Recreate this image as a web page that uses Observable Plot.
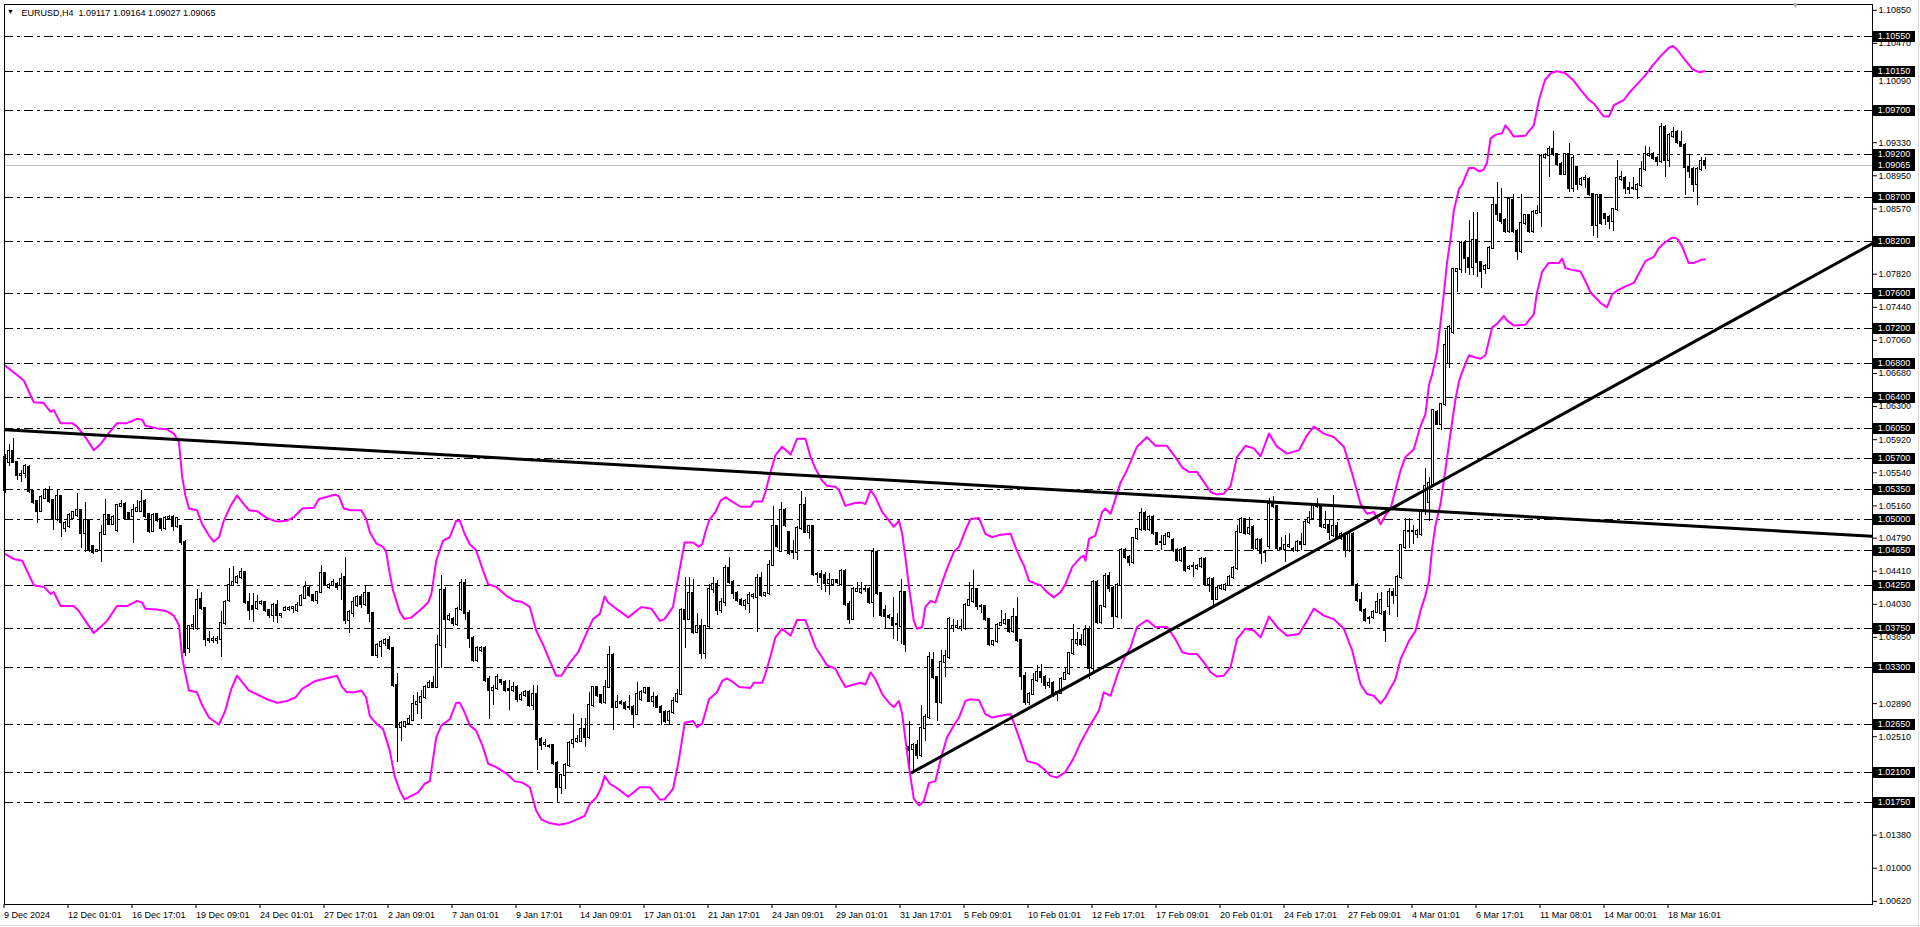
<!DOCTYPE html>
<html><head><meta charset="utf-8">
<script src="https://cdn.jsdelivr.net/npm/d3@7"></script>
<script src="https://cdn.jsdelivr.net/npm/@observablehq/plot@0.6"></script>
<style>html,body{margin:0;padding:0;background:#fff;overflow:hidden}</style>
</head><body><div id="chart"></div>
<script>
// EURUSD H4 candles, prices in pips above 1.0000 (534 -> 1.0534)
const openPips = [
534,566,579,566,551,553,560,532,521,510, 525,534,522,500,527,490,492,502,505,511,
484,499,469,464,465,483,505,495,488,515, 518,507,504,510,510,521,506,487,506,500,
490,501,503,492,492,474,352,377,375,409, 398,363,361,361,363,381,407,425,428,434,
440,405,400,398,404,405,396,390,402,390, 396,397,398,396,402,410,421,413,407,417,
438,422,425,426,425,434,384,392,402,411, 403,415,392,344,354,358,361,352,310,262,
263,266,270,288,290,296,308,312,308,356, 419,386,386,380,397,427,392,364,338,350,
352,317,304,306,315,313,305,304,308,294, 298,302,287,299,248,242,240,241,220,193,
206,218,243,245,246,259,250,287,307,298, 290,308,344,285,290,289,285,285,277,294,
302,306,292,296,285,279,270,279,291,300, 396,386,415,371,377,346,377,420,426,396,
405,444,428,415,407,402,404,412,411,433, 413,415,448,492,464,511,485,462,463,490,
516,486,492,437,437,436,427,426,430,426, 441,403,386,418,416,420,420,405,463,415,
396,389,387,380,377,416,239,236,241,229, 260,273,338,319,290,336,342,375,376,375,
375,402,406,420,400,400,385,357,360,379, 381,384,372,388,361,320,290,300,315,325,
319,310,312,302,301,317,323,346,358,362, 357,373,329,428,382,400,435,421,389,425,
465,457,451,478,489,507,489,503,484,474, 472,481,476,465,453,467,444,446,444,446,
455,426,432,409,421,420,425,434,444,486, 500,484,491,467,476,462,469,520,515,467,
466,469,466,465,474,472,497,501,515,516, 491,494,482,492,478,483,465,483,425,407,
396,387,388,394,392,394,400,417,413,434, 468,487,487,483,483,510,520,540,623,610,
632,680,715,785,787,817,800,790,821,795, 787,789,812,861,851,844,831,867,831,808,
840,849,831,852,853,916,918,925,919,908, 897,919,880,904,885,891,891,873,838,872,
850,847,842,856,891,892,880,880,879,884, 902,918,920,915,911,951,912,940,945,933,
930,905,902,885,902,911.7];
const highPips = [
575,586,593,567,557,563,562,534,522,528, 536,538,523,535,528,498,507,510,530,512,
520,500,471,466,493,523,506,505,518,522, 520,508,518,522,534,523,507,507,507,501,
504,505,505,503,493,476,379,390,420,417, 399,372,366,366,395,407,444,446,436,444,
441,415,415,413,407,406,397,404,407,392, 400,400,400,405,414,429,423,414,418,447,
440,427,432,428,438,457,396,411,413,414, 425,416,393,358,362,364,366,353,323,268,
269,275,298,302,304,310,315,320,367,436, 422,392,388,399,432,432,396,366,355,355,
354,320,310,322,317,316,315,313,310,302, 304,304,310,310,250,248,242,242,222,208,
220,245,277,252,272,272,302,309,309,300, 316,354,346,298,293,292,298,287,313,304,
308,308,302,298,287,281,281,296,305,398, 434,434,432,393,386,379,426,434,430,410,
448,457,430,418,410,408,416,415,437,440, 417,453,515,494,520,513,487,476,492,532,
526,494,494,440,442,439,438,432,432,443, 443,406,422,428,428,424,422,467,465,417,
402,391,411,392,431,418,269,243,247,287, 276,348,348,320,350,350,388,386,384,386,
404,428,442,421,403,402,386,362,381,396, 392,386,398,411,362,325,302,323,333,334,
321,318,314,303,319,329,348,380,371,368, 379,377,430,430,402,438,440,423,427,467,
467,459,480,490,513,509,505,505,486,482, 484,486,479,467,467,469,447,451,449,457,
457,434,434,423,426,427,436,446,494,503, 502,503,493,478,478,464,524,527,517,480,
482,484,468,476,484,499,509,517,524,518, 509,499,528,497,486,485,485,486,427,416,
398,389,396,415,417,396,421,421,436,472, 502,502,493,489,512,559,549,627,625,634,
717,723,789,789,819,821,844,853,853,797, 793,814,870,887,880,846,870,874,833,874,
851,851,855,861,919,921,929,946,921,910, 921,932,918,906,893,895,893,875,874,874,
852,849,858,912,900,894,887,893,886,911, 929,927,922,917,955,953,943,951,947,946,
932,919,904,904,916,916.4];
const lowPips = [
530,561,565,545,543,547,530,518,496,508, 523,519,488,498,480,486,490,500,503,467,
463,463,460,462,451,482,493,493,486,514, 500,500,473,509,508,502,484,485,497,487,
488,500,487,490,471,343,346,373,373,396, 354,358,358,357,342,379,405,424,426,432,
403,384,382,396,402,394,387,382,381,387, 395,395,392,394,400,409,411,405,403,415,
423,420,423,419,407,380,370,388,399,398, 400,382,343,341,342,355,350,308,221,246,
260,264,268,277,271,294,306,306,306,329, 352,383,378,378,395,384,352,336,336,348,
313,271,287,304,310,302,281,302,290,292, 296,285,281,212,235,239,238,218,176,185,
190,216,237,243,244,239,248,285,296,288, 288,306,258,283,287,281,281,260,275,292,
300,290,284,283,264,266,264,277,289,298, 352,384,368,369,340,340,375,415,390,392,
400,426,409,405,400,396,392,408,371,411, 411,413,446,467,462,491,459,455,453,488,
484,477,435,427,419,417,413,424,426,424, 400,380,384,416,414,416,403,388,413,388,
375,386,363,360,357,348,210,210,225,227, 245,271,317,269,288,319,340,371,374,372,
373,400,404,396,392,383,355,354,358,377, 379,370,370,359,304,287,287,298,313,312,
305,306,296,292,299,315,321,344,354,354, 355,317,325,380,380,398,417,375,387,385,
455,446,449,476,487,487,487,482,470,465, 470,479,463,451,451,440,442,434,442,444,
424,417,402,407,419,418,423,432,442,484, 482,482,465,465,449,451,466,513,465,465,
451,467,463,463,465,470,495,499,513,490, 489,476,480,478,476,457,463,423,405,394,
382,380,386,392,390,359,390,403,388,432, 466,467,472,479,481,505,498,538,608,602,
630,674,713,761,783,783,780,781,778,766, 782,787,810,842,839,829,829,829,798,806,
838,829,829,850,836,914,893,917,906,895, 895,876,876,878,883,880,871,825,823,838,
838,833,831,854,889,874,873,878,868,882, 900,916,913,906,909,893,904,938,931,927,
872,892,876,861,900,902.7];
const closePips = [
572,579,566,551,552,561,532,520,510,526, 534,521,500,527,497,496,505,508,511,484,
499,465,463,465,484,505,495,503,516,518, 502,502,511,513,520,504,487,505,499,490,
502,503,492,501,474,348,377,379,407,398, 363,361,363,363,381,405,425,428,434,440,
405,396,397,405,405,396,390,402,390,391, 398,398,399,402,412,422,413,407,416,438,
425,425,428,422,432,384,394,405,411,403, 415,392,344,356,359,361,352,310,262,266,
267,271,288,290,296,308,312,308,356,419, 386,389,381,397,427,392,364,338,352,352,
315,304,306,319,313,304,304,308,294,298, 302,287,299,248,241,243,240,220,193,206,
218,243,247,248,259,250,287,307,298,290, 308,344,285,290,289,283,285,277,300,302,
306,292,296,285,279,269,279,291,300,396, 386,415,371,377,346,377,420,426,396,405,
444,428,415,407,403,406,413,413,433,413, 415,448,492,469,511,493,461,463,490,516,
486,492,437,437,434,427,430,430,428,441, 403,386,420,420,420,420,405,463,415,390,
389,388,379,380,417,357,235,241,229,260, 273,342,319,290,336,343,386,378,377,376,
402,407,420,400,400,385,357,360,379,381, 384,372,388,361,320,290,300,315,325,319,
310,312,300,301,317,323,346,361,362,357, 373,329,428,382,400,435,421,389,425,465,
457,451,478,489,507,489,503,484,472,474, 481,484,465,453,465,442,445,446,446,455,
426,432,409,421,424,425,434,444,486,500, 484,490,467,476,461,462,518,515,467,466,
470,470,465,474,472,497,501,515,516,492, 494,486,492,480,483,465,483,425,407,396,
384,387,394,405,407,373,417,413,434,470, 487,487,487,487,510,538,542,625,610,632,
700,721,787,787,817,800,790,821,795,785, 791,812,861,851,842,831,868,831,808,840,
849,831,853,854,917,918,925,919,908,897, 919,880,915,885,891,892,873,838,872,840,
846,842,856,892,893,880,879,880,884,902, 919,920,915,911,951,912,941,945,933,929,
905,900,885,902,911,906.5];

// Envelope bands: [bar index, pips above 1.0000]
const upperBand = [[0,677],[2,670],[4.7,660],[7.2,635],[9.7,634],[11.4,624],[12.2,626],[13.9,611],[16.8,611],[18,607],[20.1,595],[22.2,580],[23.9,587],[25.5,597],[28,611],[30.5,611],[33,616],[34.3,615],[35.1,608],[38,605],[40.5,604],[42.2,599],[43.5,589],[44.3,549],[45.1,528],[46,513],[48,511],[49.3,495],[51,482],[52.2,475],[53.5,480],[54.7,499],[56.4,516],[58,528],[59.7,518],[61,511],[63,510],[65.5,502],[68,498],[70.5,499],[72.2,503],[74.3,513],[77.2,514],[78.5,524],[82.6,529],[83.5,527],[84.7,513],[86.5,511],[89.1,511],[90.3,501],[91.2,486],[92.8,473],[94.5,469],[95.3,463],[96.2,438],[97,419],[98.7,394],[99.9,386],[101.6,388],[103.7,396],[105.8,405],[106.6,415],[107.8,453],[109.5,476],[111.2,480],[112.8,499],[113.7,499],[114.9,484],[116.2,472],[117.8,465],[119.5,442],[120.8,426],[122.8,423],[125.3,413],[127.4,407],[129.1,406],[131.2,400],[132.8,373],[134.5,357],[136.2,338],[137.8,321],[139.1,321],[141.2,336],[143.3,348],[145.3,369],[147,386],[148.7,392],[149.9,412],[150.8,405],[152.8,398],[155.8,388],[159.1,400],[161.6,398],[163.7,384],[164.9,386],[167,400],[168.3,434],[169.9,474],[172,474],[173.5,469],[174.3,472],[175.1,486],[176,499],[177.6,509],[178.9,522],[180.1,526],[181.4,522],[183.9,515],[186.4,515],[187.2,521],[189.3,521],[190.1,532],[191.4,555],[192.6,574],[194.3,584],[196.4,575],[198,593],[200.1,593],[201.4,572],[202.6,559],[204.3,545],[205.5,539],[207.6,538],[208.5,534],[210.1,516],[212.2,519],[213.9,520],[215.1,518],[216.4,534],[217.6,526],[219.3,509],[221,499],[222.2,492],[223.5,499],[224.3,484],[225.1,457],[226,423],[227.2,384],[228,375],[229.3,377],[230.1,400],[231.4,407],[232.6,405],[233.9,423],[235.5,444],[237.2,463],[238.5,469],[240.1,488],[241.4,501],[243.5,502],[245.1,484],[246.8,480],[248.9,483],[251.4,484],[252.6,469],[253.9,455],[254.7,448],[256,430],[258,426],[258.9,425],[260.5,417],[262.2,411],[263.9,417],[265.1,426],[266.8,446],[268.9,457],[269.7,459],[270.1,453],[271,478],[272.6,482],[274.3,509],[275.1,513],[276.4,507],[277.6,524],[278.9,543],[280.5,557],[283,584],[285.5,595],[287.6,585],[290.5,585],[292.6,572],[294.3,560],[296,555],[298,555],[300.1,541],[301.4,532],[303,529],[304.7,530],[306.4,539],[308,572],[310.1,585],[312.2,582],[313.9,573],[316,599],[318,584],[320.5,576],[323.5,580],[325.5,597],[327.2,607],[329.7,599],[332.2,595],[334.7,584],[336.8,553],[338.9,518],[340.5,507],[342.2,509],[343.9,495],[345.1,505],[346.4,513],[348.9,557],[350.1,572],[352.2,581],[353.9,608],[355.1,621],[356,655],[356.8,667],[358,693],[358.9,727],[359.7,759],[360.5,795],[361.4,823],[362.2,855],[363.5,880],[364.3,885],[366,904],[367.2,904],[368.5,900],[369.7,902],[370.5,910],[371.4,938],[372.6,942],[374.3,944],[375.1,953],[376,948],[377.2,940],[380.1,941],[382.2,953],[383.5,982],[385,1005],[386.5,1013],[388,1015],[390,1013],[392,1005],[394,993],[396,982],[397.2,978],[399.7,963],[401,963],[402.2,976],[404.7,982],[406,990],[408,1000],[410,1010],[412,1022],[414,1033],[416,1042],[417,1044],[418,1040],[420,1028],[422,1017],[423.5,1014],[425,1015]];
const lowerBand = [[0,461],[2.2,455],[4.3,453],[7.2,425],[9.7,423],[11.4,415],[12.2,417],[13.9,401],[17.2,401],[18.5,395],[20.1,384],[22.2,370],[23.9,377],[25.5,384],[28,401],[30.5,401],[33,407],[34.3,405],[35.1,398],[38,397],[40.5,395],[42.2,390],[43.5,379],[44.3,342],[45.1,323],[46,304],[48,302],[49.3,287],[51,273],[52.2,269],[53.5,265],[55,280],[56.5,305],[58,321],[61,304],[65.5,294],[68,290],[70.5,292],[72.6,296],[74.3,306],[77.6,315],[83,321],[84.3,308],[85.5,302],[87.4,302],[89.1,304],[90.3,296],[91.2,275],[92.8,266],[94.5,260],[96.2,235],[97.4,206],[98.7,189],[99.9,179],[101.6,183],[103.3,187],[104.9,197],[106.2,200],[107.8,250],[109.1,264],[111.2,271],[112.8,290],[113.7,290],[114.9,279],[116.2,264],[117.8,258],[119.5,239],[120.8,220],[122.8,216],[125.3,209],[127.4,200],[129.5,198],[131.2,193],[132.8,166],[134.1,156],[136,152],[138.5,150],[141,152],[143,156],[144.9,160],[146.2,174],[147.8,181],[149.1,193],[149.9,206],[151.2,197],[153.3,191],[155.8,182],[158.7,193],[161.2,193],[163.7,179],[164.9,179],[167,191],[168.3,220],[169.5,254],[169.9,267],[172,269],[173,262],[174.3,266],[175.1,279],[176,294],[178,302],[179.3,315],[180.5,318],[182.2,313],[183.5,308],[186.4,307],[187.2,313],[189.3,313],[190.1,323],[191.4,344],[192.6,365],[194.3,375],[196.4,367],[198,385],[200.1,385],[201.4,369],[202.6,354],[204.3,342],[205.5,333],[207.6,329],[208.5,321],[210.1,308],[212.2,311],[213.9,313],[215.1,311],[216.4,325],[217.6,317],[219.3,300],[221,290],[222.2,285],[223.5,292],[224.3,277],[225.1,248],[226,216],[227.2,180],[228.5,172],[229.7,177],[231,198],[232.6,200],[233.9,225],[235.5,250],[237.2,264],[238.5,273],[240.1,292],[241.4,294],[243.5,293],[245.1,277],[246.8,273],[248.9,275],[251.4,277],[252.6,262],[253.9,245],[255.5,223],[258,220],[259.7,214],[261.4,206],[263,204],[265,210],[267,225],[269,245],[271,262],[273.5,281],[274.7,302],[276.4,298],[278,321],[279.7,340],[281.4,354],[283,377],[285.5,385],[287.6,377],[290.5,377],[292.6,363],[294.3,348],[296,346],[298,346],[300.1,334],[301.4,325],[303,320],[304.7,321],[306.4,331],[308,363],[310.1,375],[312.2,373],[313.9,365],[316,389],[318,377],[320.5,367],[323.5,369],[325.5,384],[327.2,398],[329.7,390],[332.2,386],[334.7,375],[336.8,350],[338.9,311],[340.5,300],[342.2,298],[343.9,289],[345.1,296],[347.6,317],[348.9,340],[351,361],[352.6,372],[353.9,396],[355.1,413],[356,430],[356.8,468],[357.6,493],[358.9,519],[360.1,557],[361.4,600],[362.6,638],[363.5,659],[364.3,670],[366,689],[367.2,687],[368.9,685],[370.1,689],[371,706],[371.8,721],[373,725],[374.7,734],[375.5,729],[377.2,723],[380.1,724],[382.2,736],[383,761],[384.3,785],[385.9,795],[388.5,795],[389.3,800],[390.1,789],[391.8,787],[393.9,785],[395.1,774],[396.4,761],[398.9,749],[400.5,744],[401.8,759],[403,763],[405.1,768],[407.2,772],[408.5,783],[410.1,797],[412.2,802],[413.5,812],[415.1,819],[416.8,824],[418,823],[419.3,814],[420.9,795],[422.2,795],[424.3,799],[425,799]];

// Trend lines: [bar index, price]
const trendDown = [[-0.125,1.06034],[466.875,1.04811]];
const trendUp = [[226.8,1.0210],[466.875,1.08172]];

// Horizontal levels and current price
const levels = [1.10550,1.10150,1.09700,1.09200,1.08700,1.08200,1.07600,1.07200,1.06800,1.06400,1.06050,1.05700,1.05350,1.05000,1.04650,1.04250,1.03750,1.03300,1.02650,1.02100,1.01750];
const currentPrice = 1.09065;

// Axis ticks (labels fully covered by a level box in the reference are left blank)
const yTicks = [1.10850,1.10470,1.10090,1.09710,1.09330,1.08950,1.08570,1.08190,1.07820,1.07440,1.07060,1.06680,1.06300,1.05920,1.05540,1.05160,1.04790,1.04410,1.04030,1.03650,1.03270,1.02890,1.02510,1.02130,1.01760,1.01380,1.01000,1.00620];
const hiddenTicks = [1.09710,1.08190,1.02130,1.01760];
const nudgedTicks = [1.10090];   // label drawn a little lower, just under its neighbouring level box
const xLabels = ["9 Dec 2024","12 Dec 01:01","16 Dec 17:01","19 Dec 09:01","24 Dec 01:01","27 Dec 17:01","2 Jan 09:01","7 Jan 01:01","9 Jan 17:01","14 Jan 09:01","17 Jan 01:01","21 Jan 17:01","24 Jan 09:01","29 Jan 01:01","31 Jan 17:01","5 Feb 09:01","10 Feb 01:01","12 Feb 17:01","17 Feb 09:01","20 Feb 01:01","24 Feb 17:01","27 Feb 09:01","4 Mar 01:01","6 Mar 17:01","11 Mar 08:01","14 Mar 00:01","18 Mar 16:01"];
const xTickBars = xLabels.map((d, i) => i * 16);
const titleText = "EURUSD,H4\u00a0 1.09117 1.09164 1.09027 1.09065";

const toPrice = p => 1 + p / 10000;
const bars = openPips.map((o, i) => ({
  i, o: toPrice(o), h: toPrice(highPips[i]), l: toPrice(lowPips[i]), c: toPrice(closePips[i])
}));
const upper = upperBand.map(([b, p]) => ({bar: b, price: toPrice(p)}));
const lower = lowerBand.map(([b, p]) => ({bar: b, price: toPrice(p)}));
const tDown = trendDown.map(([b, p]) => ({bar: b, price: p}));
const tUp = trendUp.map(([b, p]) => ({bar: b, price: p}));

const W = 1920, H = 927, mR = 48;
const plot = Plot.plot({
  width: W, height: H,
  marginLeft: 4, marginRight: mR, marginTop: 4, marginBottom: 23,
  style: {fontFamily: "'Liberation Sans', Arial, sans-serif", fontSize: "9px", background: "#fff", color: "#000", overflow: "visible"},
  x: {domain: [-0.125, 466.875]},
  y: {domain: [1.005836, 1.109166]},
  marks: [
    Plot.ruleY(levels, {stroke: "#000", strokeDasharray: "9,4,3,4", shapeRendering: "crispEdges"}),
    Plot.ruleY([currentPrice], {stroke: "#c0c0c0", shapeRendering: "crispEdges"}),
    Plot.ruleX(bars, {x: "i", y1: "l", y2: "h", stroke: "#000", shapeRendering: "crispEdges"}),
    Plot.rect(bars, {
      x1: d => d.i - 0.25, x2: d => d.i + 0.25,
      y1: d => Math.min(d.o, d.c), y2: d => Math.max(d.o, d.c),
      insetTop: -0.5, insetBottom: -0.5,
      fill: d => d.c >= d.o ? "#fff" : "#000", stroke: "#000", shapeRendering: "crispEdges"
    }),
    Plot.line(upper, {x: "bar", y: "price", stroke: "#ff00ff", strokeWidth: 2}),
    Plot.line(lower, {x: "bar", y: "price", stroke: "#ff00ff", strokeWidth: 2}),
    Plot.line(tDown, {x: "bar", y: "price", stroke: "#000", strokeWidth: 3, clip: true}),
    Plot.line(tUp, {x: "bar", y: "price", stroke: "#000", strokeWidth: 3, clip: true}),
    Plot.frame({stroke: "#000", shapeRendering: "crispEdges"}),
    Plot.axisY({anchor: "right", ticks: yTicks, tickFormat: d => (hiddenTicks.includes(d) || nudgedTicks.includes(d)) ? "" : d.toFixed(5), tickSize: 4, tickPadding: 2, label: null}),
    Plot.text(nudgedTicks, {y: d => d, text: d => d.toFixed(5), frameAnchor: "right", dx: 6, dy: 5, textAnchor: "start"}),
    Plot.axisX({anchor: "bottom", ticks: xTickBars, tickFormat: d => xLabels[Math.round(d / 16)], tickSize: 4, tickPadding: 3, textAnchor: "start", dx: -1, label: null}),
    Plot.text(["\u25bc"], {frameAnchor: "top-left", dx: 6, dy: 5, lineAnchor: "top", textAnchor: "middle", fontSize: 7}),
    Plot.text([titleText], {frameAnchor: "top-left", dx: 17, dy: 5, lineAnchor: "top", textAnchor: "start"}),
    Plot.text(["\u25bc"], {frameAnchor: "top-right", dx: -77, dy: -2, lineAnchor: "top", textAnchor: "middle", fontSize: 8, fill: "#a8a8a8"})
  ]
});
document.getElementById("chart").appendChild(plot);

// price label boxes on the right axis, positioned with Plot's y scale
const ys = plot.scale("y");
const svg = d3.select(plot);
const g = svg.append("g");
const xr = W - mR;
for (const v of levels.concat([currentPrice])) {
  const y = Math.round(ys.apply(v));
  g.append("rect").attr("x", xr + 1).attr("y", y - 5).attr("width", 42).attr("height", 11).attr("fill", "#000");
  g.append("text").attr("x", xr + 22).attr("y", y).attr("dy", "0.35em").attr("text-anchor", "middle").attr("fill", "#fff").text(v.toFixed(5));
}
// window edge lines (light gray) at the right and bottom
svg.append("line").attr("x1", 0).attr("x2", W).attr("y1", H - 1.5).attr("y2", H - 1.5).attr("stroke", "#dcdcdc");
svg.append("line").attr("x1", W - 1.5).attr("x2", W - 1.5).attr("y1", 0).attr("y2", H).attr("stroke", "#dcdcdc");
</script>
</body></html>
